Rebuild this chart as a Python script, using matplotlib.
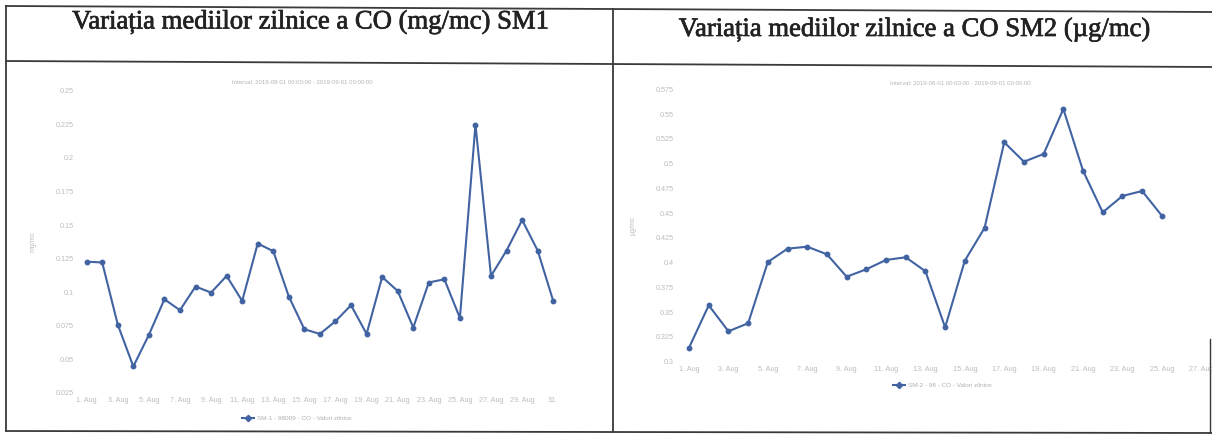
import matplotlib
matplotlib.use("Agg")
import matplotlib.pyplot as plt
from matplotlib.lines import Line2D
import matplotlib.patheffects as pe

# ---------------- data ----------------
days_sm1 = list(range(1, 32))
sm1_values = [0.122, 0.1214, 0.0752, 0.044, 0.0675, 0.094, 0.0859, 0.1035, 0.099,
              0.1114, 0.0928, 0.1355, 0.1298, 0.096, 0.0717, 0.0682, 0.0777, 0.0896,
              0.0682, 0.1106, 0.1002, 0.073, 0.1065, 0.1089, 0.0801, 0.224, 0.1114,
              0.1303, 0.153, 0.1303, 0.0928]

days_sm2 = list(range(1, 26))
sm2_values = [0.3131, 0.3559, 0.3297, 0.3378, 0.3996, 0.4131, 0.4151, 0.4074, 0.3848,
              0.3923, 0.4017, 0.4044, 0.3903, 0.3337, 0.401, 0.434, 0.5205, 0.5009,
              0.5087, 0.5541, 0.4918, 0.4498, 0.4663, 0.4713, 0.4464]

xtick_days_sm1 = list(range(1, 32, 2))
xtick_labels_sm1 = [f"{d}. Aug" for d in range(1, 30, 2)] + ["31."]
xtick_days_sm2 = list(range(1, 32, 2))
xtick_labels_sm2 = [f"{d}. Aug" for d in range(1, 32, 2)]

yticks_sm1 = [0.025, 0.05, 0.075, 0.1, 0.125, 0.15, 0.175, 0.2, 0.225, 0.25]
ytick_labels_sm1 = ["0.025", "0.05", "0.075", "0.1", "0.125", "0.15", "0.175", "0.2", "0.225", "0.25"]
yticks_sm2 = [0.3, 0.325, 0.35, 0.375, 0.4, 0.425, 0.45, 0.475, 0.5, 0.525, 0.55, 0.575]
ytick_labels_sm2 = ["0.3", "0.325", "0.35", "0.375", "0.4", "0.425", "0.45", "0.475",
                    "0.5", "0.525", "0.55", "0.575"]

title_sm1 = "Variația mediilor zilnice a CO (mg/mc) SM1"
title_sm2 = "Variația mediilor zilnice a CO SM2 (µg/mc)"
subtitle = "Interval: 2019-08-01 00:00:00 - 2019-09-01 00:00:00"
legend_sm1 = "SM-1 - 98009 - CO - Valori zilnice"
legend_sm2 = "SM-2 - 98 - CO - Valori zilnice"
ylabel_sm1 = "mg/mc"
ylabel_sm2 = "µg/mc"

# ---------------- figure ----------------
W, H = 1212, 435
DPI = 100
fig = plt.figure(figsize=(W / DPI, H / DPI), dpi=DPI)
fig.patch.set_facecolor("white")

def fx(px):
    return px / W

def fy(py):
    return 1 - py / H

LINE_COLOR = "#4163a2"
TICK_COLOR = "#bdbdbd"
SANS = "Liberation Sans"

def make_chart(rect_px, days, values, xlim, ylim, xt, xtl, yt, ytl, ylabel):
    x0, y0, x1, y1 = rect_px  # left, top, right, bottom in pixels
    ax = fig.add_axes([fx(x0), fy(y1), fx(x1 - x0), (y1 - y0) / H])
    ax.plot(days, values, color=LINE_COLOR, lw=1.5, marker="o", ms=3.2,
            mfc=LINE_COLOR, mec=LINE_COLOR, clip_on=False, zorder=3)
    ax.set_xlim(*xlim)
    ax.set_ylim(*ylim)
    ax.set_xticks(xt)
    ax.set_xticklabels(xtl, fontsize=5.2, color=TICK_COLOR, family=SANS)
    ax.set_yticks(yt)
    ax.set_yticklabels(ytl, fontsize=5.2, color=TICK_COLOR, family=SANS)
    ax.tick_params(length=0, pad=3)
    for s in ax.spines.values():
        s.set_visible(False)
    ax.set_facecolor("none")
    ax.set_ylabel(ylabel, fontsize=5, color=TICK_COLOR, family=SANS, labelpad=14)
    return ax

# left chart: day1 at px 86.7, 15.55 px/day
ax1 = make_chart((78.1, 90.7, 561.0, 393.0), days_sm1, sm1_values,
                 (0.45, 31.5), (0.025, 0.25), xtick_days_sm1, xtick_labels_sm1,
                 yticks_sm1, ytick_labels_sm1, ylabel_sm1)

# right chart: day1 at px 689, 19.7 px/day; extends beyond the page crop
ax2 = make_chart((678.2, 89.3, 678.2 + 31.05 * 19.7, 361.7), days_sm2, sm2_values,
                 (0.45, 31.5), (0.3, 0.575), xtick_days_sm2, xtick_labels_sm2,
                 yticks_sm2, ytick_labels_sm2, ylabel_sm2)

# chart subtitles
fig.text(fx(302), fy(82), subtitle, fontsize=4.3, color="#b5b5b5", family=SANS,
         ha="center", va="center")
fig.text(fx(960), fy(84), subtitle, fontsize=4.3, color="#b5b5b5", family=SANS,
         ha="center", va="center")

# legends
for (mx, my, txt) in [(248, 419, legend_sm1), (899, 386, legend_sm2)]:
    fig.add_artist(Line2D([fx(mx - 6), fx(mx + 6)], [fy(my), fy(my)], color=LINE_COLOR,
                          lw=1.5, transform=fig.transFigure))
    fig.add_artist(Line2D([fx(mx)], [fy(my)], color=LINE_COLOR, marker="D", ms=3.2,
                          transform=fig.transFigure))
    fig.text(fx(mx + 9), fy(my), txt, fontsize=4.6, color="#b0b0b0", family=SANS,
             ha="left", va="center")

# table titles
TITLE_COLOR = "#222222"
for (tx, ty, txt) in [(310, 29.5, title_sm1), (914, 37, title_sm2)]:
    fig.text(fx(tx), fy(ty), txt, fontsize=19.2, color=TITLE_COLOR,
             family="Liberation Serif", ha="center", va="baseline",
             path_effects=[pe.withStroke(linewidth=0.5, foreground=TITLE_COLOR)])

# table borders (scan is slightly rotated)
BORDER = "#3a3a3a"
def seg(p0, p1, lw=1.3):
    fig.add_artist(Line2D([fx(p0[0]), fx(p1[0])], [fy(p0[1]), fy(p1[1])],
                          color=BORDER, lw=lw, transform=fig.transFigure))

seg((6, 7), (1212, 13))
seg((6, 62), (1212, 68))
seg((6, 432), (1212, 434))
seg((6, 7), (6, 432))
seg((613, 10), (613, 433))
seg((1210, 340), (1210, 434), lw=1.0)

fig.savefig("out.png", dpi=DPI, facecolor="white")
